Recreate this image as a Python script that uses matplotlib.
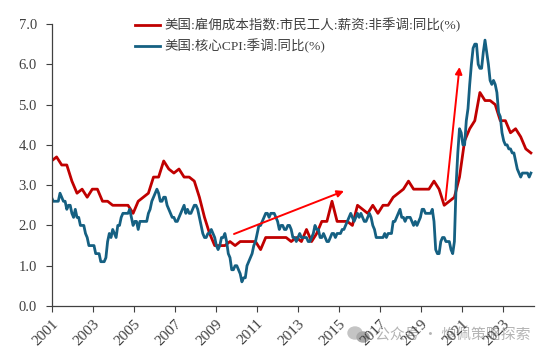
import matplotlib
matplotlib.use('Agg')
import matplotlib.pyplot as plt
from matplotlib.patches import Ellipse

plt.rcParams['font.family'] = ['Liberation Serif', 'Noto Sans CJK SC']

# monthly, from mid 2001
cpi = [2.7, 2.6, 2.6, 2.6, 2.6, 2.8, 2.7,
       2.6, 2.6, 2.4, 2.5, 2.5, 2.3, 2.2, 2.4, 2.2, 2.2, 2.0, 2.0,
       2.0, 1.8, 1.7, 1.5, 1.5, 1.5, 1.5, 1.3, 1.3, 1.3, 1.1, 1.1,
       1.1, 1.2, 1.6, 1.8, 1.7, 1.9, 1.8, 1.7, 2.0, 2.0, 2.2, 2.3,
       2.3, 2.3, 2.3, 2.4, 2.2, 2.0, 2.1, 2.1, 1.9, 2.1, 2.1, 2.1,
       2.1, 2.1, 2.3, 2.4, 2.6, 2.7, 2.8, 2.9, 2.8, 2.6, 2.6, 2.7,
       2.7, 2.5, 2.4, 2.3, 2.2, 2.2, 2.1, 2.1, 2.2, 2.3, 2.4, 2.5,
       2.3, 2.4, 2.3, 2.3, 2.4, 2.5, 2.5, 2.4, 2.2, 2.0, 1.8, 1.7,
       1.7, 1.8, 1.8, 1.9, 1.8, 1.7, 1.5, 1.4, 1.5, 1.7, 1.7, 1.8,
       1.6, 1.3, 1.2, 0.9, 0.9, 1.0, 1.0, 0.9, 0.8, 0.6, 0.7, 0.7,
       1.0, 1.1, 1.2, 1.3, 1.5, 1.6, 1.8, 2.0, 2.0, 2.1, 2.2, 2.3,
       2.3, 2.2, 2.3, 2.3, 2.3, 2.2, 2.1, 1.9, 2.0, 2.0, 1.9, 1.9,
       2.0, 2.0, 1.9, 1.7, 1.7, 1.6, 1.7, 1.8, 1.7, 1.7, 1.7, 1.7,
       1.6, 1.6, 1.7, 1.8, 2.0, 1.9, 1.9, 1.7, 1.7, 1.8, 1.7, 1.6,
       1.6, 1.7, 1.8, 1.8, 1.7, 1.8, 1.8, 1.8, 1.9, 1.9, 2.0, 2.1,
       2.2, 2.3, 2.2, 2.1, 2.2, 2.3, 2.2, 2.3, 2.2, 2.1, 2.1, 2.2,
       2.3, 2.2, 2.0, 1.9, 1.7, 1.7, 1.7, 1.7, 1.7, 1.8, 1.7, 1.8,
       1.8, 1.8, 2.1, 2.1, 2.2, 2.3, 2.4, 2.2, 2.2, 2.1, 2.2, 2.2,
       2.2, 2.1, 2.0, 2.1, 2.0, 2.1, 2.2, 2.4, 2.4, 2.3, 2.3, 2.3,
       2.3, 2.4, 2.1, 1.4, 1.3, 1.3, 1.6, 1.7, 1.7, 1.6, 1.6, 1.6,
       1.4, 1.3, 1.6, 3.0, 3.8, 4.4, 4.3, 4.0, 4.0, 4.6, 4.9, 5.5,
       6.0, 6.4, 6.5, 6.5, 6.0, 5.9, 5.9, 6.3, 6.6, 6.3, 6.0, 5.6,
       5.5, 5.6, 5.5, 5.3, 4.8, 4.7, 4.3, 4.1, 4.0, 4.0, 3.9, 3.9,
       3.8, 3.8, 3.6, 3.4, 3.3, 3.2, 3.3, 3.3, 3.3, 3.3, 3.2, 3.3]

# quarterly
eci = [3.6, 3.7, 3.5, 3.5, 3.1, 2.8, 2.9, 2.7, 2.9, 2.9, 2.6, 2.6, 2.5, 2.5, 2.5, 2.5,
       2.3, 2.6, 2.7, 2.8, 3.2, 3.2, 3.6, 3.4, 3.3, 3.4, 3.2, 3.2, 3.1, 2.7, 2.2, 1.8,
       1.5, 1.5, 1.5, 1.6, 1.5, 1.6, 1.6, 1.6, 1.6, 1.4, 1.7, 1.7, 1.7, 1.7, 1.7, 1.6,
       1.7, 1.6, 1.9, 1.6, 1.8, 2.1, 2.1, 2.6, 2.1, 2.1, 2.1, 2.0, 2.5, 2.4, 2.3, 2.5,
       2.3, 2.5, 2.5, 2.7, 2.8, 2.9, 3.1, 2.9, 2.9, 2.9, 2.9, 3.1, 2.9, 2.5, 2.6, 2.7,
       3.2, 4.1, 4.4, 4.6, 5.3, 5.1, 5.1, 5.0, 4.6, 4.6, 4.3, 4.4, 4.2, 3.9, 3.8]

x_cpi = list(range(len(cpi)))
x_eci = [3 * k for k in range(len(eci))]

yticks = [0, 1, 2, 3, 4, 5, 6, 7]
years = [2001, 2003, 2005, 2007, 2009, 2011, 2013, 2015, 2017, 2019, 2021, 2023]
tick_step = 24.12

fig = plt.figure(figsize=(5.5, 3.57), dpi=100)
ax = fig.add_axes([51.5 / 550, 1 - 306 / 357, (534 - 51.5) / 550, 282 / 357])

ax.plot(x_eci, eci, color='#C00000', lw=2.0, label='美国:雇佣成本指数:市民工人:薪资:非季调:同比(%)')
ax.plot(x_cpi, cpi, color='#156082', lw=2.0, label='美国:核心CPI:季调:同比(%)')

ax.set_xlim(0, (534 - 51.5) / 1.70)
ax.set_ylim(0, 7)
ax.set_yticks(yticks)
ax.set_yticklabels(['%.1f' % v for v in yticks], fontsize=10.5, color='#404040')
ax.set_xticks([tick_step * i for i in range(len(years))])
ax.set_xticklabels(years, fontsize=11, rotation=45, ha='right', rotation_mode='anchor', color='#404040')
ax.tick_params(axis='both', direction='out', length=4, width=0.8, color='#404040')
ax.tick_params(axis='y', pad=6.6)
ax.tick_params(axis='x', pad=4)
for s in ['top', 'right']:
    ax.spines[s].set_visible(False)
for s in ['left', 'bottom']:
    ax.spines[s].set_color('#404040')
    ax.spines[s].set_linewidth(0.9)

ax.legend(loc='upper left', bbox_to_anchor=(83 / 482.5, 1.022), frameon=False, fontsize=9.7, handlelength=1.9,
          handletextpad=0.3, labelspacing=0.5, labelcolor='#404040', borderpad=0, borderaxespad=0)

# hand drawn arrows
arrow = dict(arrowstyle='-|>', color='#FF0000', lw=1.4, mutation_scale=10, shrinkA=0, shrinkB=0)
ax.annotate('', xy=(344, 357 - 191), xytext=(234, 357 - 234), xycoords='figure pixels', textcoords='figure pixels', arrowprops=arrow)
ax.annotate('', xy=(459.5, 357 - 67), xytext=(445.5, 357 - 200), xycoords='figure pixels', textcoords='figure pixels', arrowprops=arrow)

# watermark
fig.text(375 / 550, 1 - 335 / 357, '公众号 · 炮佩策略探索', fontsize=10.7, color='#b4b4b4', va='center', family='Noto Sans CJK SC', zorder=-1)
fig.add_artist(Ellipse((355 / 550, 1 - 333 / 357), 14 / 550, 12 / 357, color='#c4c4c4', zorder=-1))
fig.add_artist(Ellipse((363 / 550, 1 - 337 / 357), 12 / 550, 10 / 357, color='#a8a8a8', zorder=-1))

fig.savefig('out.png', dpi=100)
